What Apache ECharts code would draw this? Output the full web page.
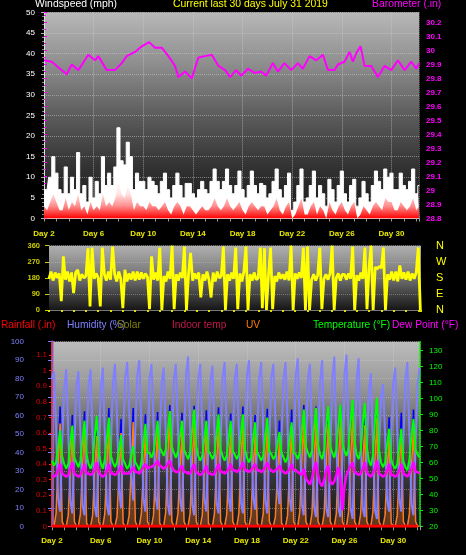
<!DOCTYPE html>
<html><head><meta charset="utf-8">
<script src="https://cdn.jsdelivr.net/npm/echarts/dist/echarts.min.js"></script>
<style>html,body{margin:0;padding:0;background:#000;}#c{width:466px;height:555px;}</style>
</head><body><div id="c"></div>
<script>
// ---------- data (x = days since "Day 2") ----------
const dayLabelStep = 4;
const windStep = 0.25;
const windGust = [7,7,10,15,11,7,6,12.5,
 6,10,7,16,6,8,4,10,
 5,9,6,15,8,11,8,12.5,
 22,14,13,18.5,15,7,11,9,
 9,7,10,9,8,6,9,11,
 7,5,8,11,8,5,8.5,8.5,
 6,5,7,9,7,6,9,12,
 9,7,9,12,8,6,8,11.5,
 7,5,8,11.5,8,6,8.5,8,
 5,6,9,12,7,5,8,11,
 2,4,8,12,4,5,8,11.5,
 5,8,6,3,9.5,7,4,8,
 11.5,6,4,8,9.5,3,5,9,
 6,4,8,11.5,9,7,12,10,
 11,7,7,11,8,7,9,12,
 6,8];
const windAvg = [3,2,4,6,4,2,2,5,
 2,4,3,6,2,3,1,4,
 2,3,2,6,3,4,3,5,
 9,6,5,8,6,2,4,3,
 3,2,4,3,3,2,3,4,
 2,1,3,4,3,1,3,3,
 2,1,2,3,2,2,3,5,
 3,2,3,5,3,2,3,4,
 2,1,3,4,3,2,3,3,
 1,2,3,5,2,1,3,4,
 0,1,3,5,1,1,3,4,
 1,3,2,0,4,2,1,3,
 4,2,1,3,4,0,1,3,
 2,1,3,4,3,2,5,4,
 4,2,2,4,3,2,3,5,
 2,3];
const baroDay = [2.0,2.08,2.62,3.29,3.83,4.23,4.77,5.57,6.11,6.38,7.05,7.73,8.26,8.67,9.34,9.88,10.47,10.95,11.49,12.02,12.56,12.83,13.37,13.91,14.44,14.98,15.52,16.06,16.6,17.0,17.48,17.89,18.43,18.96,19.5,19.9,20.44,20.85,21.38,21.92,22.46,22.86,23.4,23.94,24.48,24.88,25.41,25.68,26.22,26.62,26.89,27.16,27.51,27.83,28.37,28.91,29.44,29.98,30.52,31.06,31.6,32.0,32.22];
const baroValue = [29.93,29.94,29.92,29.87,29.83,29.90,29.86,29.97,29.93,29.96,29.86,29.86,29.91,29.96,29.99,30.03,30.06,30.02,30.02,29.96,29.89,29.81,29.85,29.80,29.95,29.96,29.97,29.89,29.86,29.81,29.86,29.82,29.87,29.84,29.85,29.82,29.91,29.85,29.91,29.86,29.91,29.87,29.96,29.93,29.97,29.86,29.86,29.90,29.92,29.99,29.92,29.98,30.03,29.89,29.89,29.81,29.89,29.86,29.93,29.86,29.92,29.87,29.91];
const dirStep = 1/6;
const windDir = [
 175,215,165,210,180,205, 50,300,170,215,160,210, 95,210,225,165,200,180,
 190,345,20,350,175,205, 180,20,350,200,165,215, 170,355,200,160,215,175,
 10,225,160,205,170,215, 165,215,170,210,175,205, 185,5,300,170,210,165,
 350,0,190,160,215,175, 360,5,200,165,210,180, 355,0,200,320,165,205,
 175,210,70,200,165,215, 170,70,210,160,215,180, 190,355,0,200,165,210,
 175,350,5,205,160,215, 355,0,200,165,210,170, 180,350,10,345,0,200,
 350,5,190,160,210,175, 200,170,215,165,360,0, 205,175,210,180,350,0,
 355,0,170,200,165,195, 350,5,175,200,170,205, 360,0,180,205,165,200,
 200,170,205,175,355,0, 195,165,210,175,350,5, 240,360,0,240,230,245,
 235,350,0,200,170,215, 165,215,160,250,175,210, 170,215,165,205,175,210,
 350,0];
const cycleStep = 1/6;
const temperature = [
 61,58,60,70,80,64, 59,56,59,72,83,63, 60,57,61,74,86,65, 59,56,60,76,89,66,
 60,56,62,75,88,64, 60,57,60,68,77,62, 59,56,58,64,70,60, 58,55,60,72,84,66,
 66,63,66,75,86,69, 67,64,68,80,92,70, 66,63,66,76,86,68, 65,62,66,80,93,70,
 64,61,64,75,86,67, 65,62,65,78,90,68, 64,61,64,75,86,67, 65,62,65,78,90,68,
 63,60,63,74,85,66, 64,61,64,76,88,67, 65,62,64,71,79,66, 63,60,63,74,85,66,
 65,62,66,80,93,70, 66,63,67,81,94,71, 65,62,67,82,95,70, 66,63,68,83,96,72,
 67,64,69,85,99,73, 65,62,67,84,97,70, 61,58,64,85,100,68, 60,57,60,71,81,62,
 58,56,59,70,81,61, 57,55,62,76,87,68, 65,63];
const dewPoint = [
 52,51,52,55,59,53, 52,51,52,56,60,53, 52,51,52,55,59,53, 53,52,53,56,60,54,
 52,51,52,55,59,53, 53,52,53,55,58,53, 53,53,53,55,57,54, 54,53,55,57,59,56,
 57,57,58,59,61,58, 57,56,57,59,61,57, 55,54,54,56,58,54, 54,53,53,56,59,54,
 53,52,53,55,58,53, 53,52,53,56,59,54, 54,53,54,56,59,55, 55,54,55,57,60,55,
 55,54,55,57,59,55, 55,54,55,57,60,56, 55,54,55,56,58,55, 54,53,54,56,59,55,
 55,54,53,52,56,50, 48,46,50,56,60,52, 47,45,49,55,58,48, 46,48,52,57,50,30,
 45,52,55,58,60,54, 53,52,53,56,60,54, 52,51,53,56,61,53, 52,51,52,55,59,52,
 52,51,52,55,59,53, 52,51,53,56,60,54, 54,53];
const humidity = [
 80,84,55,15,8,45, 75,85,52,14,7,42, 76,84,50,12,6,44, 77,85,48,11,5,40,
 76,86,50,12,6,42, 78,88,60,20,10,48, 80,89,65,28,14,52, 82,90,55,15,8,45,
 80,88,55,16,9,46, 78,86,50,12,6,44, 80,88,54,15,8,46, 82,92,52,12,6,44,
 80,88,54,15,8,45, 79,87,52,13,7,44, 81,89,54,15,8,46, 80,88,52,13,7,45,
 82,90,55,16,9,47, 80,89,53,14,7,45, 81,88,58,20,12,48, 80,89,55,15,8,46,
 82,91,52,12,6,42, 80,88,50,11,5,40, 78,90,48,10,5,38, 80,92,48,10,5,36,
 82,93,50,10,4,38, 80,91,48,10,5,40, 74,83,45,9,4,40, 70,77,50,14,8,46,
 78,86,52,15,8,46, 80,89,50,12,6,44, 78,86];
const uvIndex = [
 0,0,0.8,4.0,6.6,0.3, 0,0,0.7,3.6,6.0,0.3, 0,0,0.8,3.8,6.3,0.2, 0,0,0.7,3.5,5.8,0.3,
 0,0,0.8,3.9,6.5,0.3, 0,0,0.6,3.4,6.0,0.2, 0,0,0.7,3.8,6.7,0.3, 0,0,0.8,3.6,6.0,0.3,
 0,0,0.7,3.8,6.3,0.2, 0,0,0.9,4.4,7.4,0.3, 0,0,0.8,3.7,6.2,0.3, 0,0,0.8,4.1,6.8,0.3,
 0,0,0.7,3.8,6.4,0.2, 0,0,0.8,4.0,6.6,0.3, 0,0,0.7,3.7,6.2,0.3, 0,0,0.8,4.1,6.8,0.3,
 0,0,0.7,3.6,6.0,0.2, 0,0,0.8,3.9,6.5,0.3, 0,0,0.6,3.3,5.6,0.2, 0,0,0.7,3.8,6.4,0.3,
 0,0,0.9,4.2,7.0,0.3, 0,0,0.8,4.1,6.8,0.3, 0,0,0.8,4.0,6.6,0.3, 0,0,0.8,4.1,6.9,0.3,
 0,0,0.9,4.3,7.1,0.3, 0,0,0.8,3.9,6.5,0.3, 0,0,0.9,4.2,7.0,0.3, 0,0,0.7,3.5,5.8,0.2,
 0,0,0.7,3.7,6.2,0.3, 0,0,0.8,3.8,6.4,0.3, 0,0];
const solar = [
 0,0,75,395,770,25, 0,0,65,355,715,25, 0,0,75,375,740,20, 0,0,65,345,700,25,
 0,0,75,385,760,25, 0,0,55,335,690,20, 0,0,65,375,760,25, 0,0,75,355,720,25,
 0,0,65,375,735,20, 0,0,85,435,780,25, 0,0,75,365,730,25, 0,0,75,405,775,25,
 0,0,65,375,745,20, 0,0,75,395,765,25, 0,0,65,365,725,25, 0,0,75,405,770,25,
 0,0,65,355,715,20, 0,0,75,385,755,25, 0,0,55,325,680,20, 0,0,65,375,750,25,
 0,0,85,415,780,25, 0,0,75,405,770,25, 0,0,75,395,760,25, 0,0,75,405,775,25,
 0,0,85,425,785,25, 0,0,75,385,755,25, 0,0,85,415,780,25, 0,0,65,345,700,20,
 0,0,65,365,730,25, 0,0,75,375,750,25, 0,0];
const rainDay = [2,3,4,5,6,7,8,9,10,11,12,13,14,15,16,17,18,19,20,21,22,23,24,25,26,27,28,29,30,31,32];
const rainfall = [0,0,0,0,0,0,0,0,0,0,0,0,0,0,0,0,0,0,0,0,0,0,0,0,0,0,0,0,0,0,0];
const compass = {0:'N',90:'E',180:'S',270:'W',360:'N'};

// ---------- helpers ----------
const pairs = (vals, step) => vals.map((v, i) => [i * step, v]);
const FONT = '"Liberation Sans", Arial, sans-serif';
const dot = c => ({show: true, lineStyle: {color: c, type: 'dotted', width: 1}});
const dayFmt = v => (Math.abs(v % dayLabelStep) < 1e-6 ? 'Day ' + Math.round(v + 2) : '');
const num1 = v => String(+(+v).toFixed(1));
const grad = stops => ({type: 'linear', x: 0, y: 0, x2: 0, y2: 1,
  colorStops: stops.map((c, i) => ({offset: i / (stops.length - 1), color: c}))});

const chart = echarts.init(document.getElementById('c'));
chart.setOption({
  backgroundColor: '#000',
  animation: false,
  graphic: [
    {type: 'text', left: 35, top: -1, z: 100, style: {text: 'Windspeed (mph)', fill: '#ffffff', font: '10.4px ' + FONT}},
    {type: 'text', left: 173, top: -1, z: 100, style: {text: 'Current last 30 days July 31 2019', fill: '#ffff00', font: '10.4px ' + FONT}},
    {type: 'text', left: 372, top: -1, z: 100, style: {text: 'Barometer (.in)', fill: '#ff00ff', font: '10.4px ' + FONT}},
    {type: 'text', left: 1, top: 320, z: 100, style: {text: 'Rainfall (.in)', fill: '#ff0000', font: '10.2px ' + FONT}},
    {type: 'text', left: 67, top: 320, z: 100, style: {text: 'Humidity (%)', fill: '#8080ff', font: '10.2px ' + FONT}},
    {type: 'text', left: 117, top: 320, z: 101, style: {text: 'Solar', fill: '#808000', font: '10.2px ' + FONT}},
    {type: 'text', left: 172, top: 320, z: 100, style: {text: 'Indoor temp', fill: '#c01848', font: '10.2px ' + FONT}},
    {type: 'text', left: 246, top: 320, z: 100, style: {text: 'UV', fill: '#ff8000', font: '10.2px ' + FONT}},
    {type: 'text', left: 313, top: 320, z: 100, style: {text: 'Temperature (°F)', fill: '#00ff00', font: '10.2px ' + FONT}},
    {type: 'text', left: 392, top: 320, z: 100, style: {text: 'Dew Point (°F)', fill: '#ff00ff', font: '10.2px ' + FONT}}
  ],
  grid: [
    {left: 44, top: 12.3, width: 375, height: 206.2, show: true, borderWidth: 0,
     backgroundColor: grad(['#b8b8b8', '#8e8e8e', '#5c5c5c', '#323232', '#161616'])},
    {left: 49, top: 245.7, width: 372, height: 64.3, show: true, borderWidth: 0,
     backgroundColor: grad(['#b0b0b0', '#707070', '#161616'])},
    {left: 52, top: 341.7, width: 368, height: 184.6, show: true, borderWidth: 0,
     backgroundColor: grad(['#bcbcbc', '#969696', '#5e5e5e', '#333333', '#161616'])}
  ],
  xAxis: [
    {type: 'value', gridIndex: 0, position: 'bottom', min: 0, max: 30.22, interval: 4,
     axisLine: {show: false}, axisTick: {show: false},
     axisLabel: {color: '#e8e800', fontSize: 8, fontWeight: 'bold', fontFamily: FONT, margin: 11, formatter: dayFmt, showMaxLabel: false},
     splitLine: dot('rgba(210,210,210,0.55)')},
    {type: 'value', gridIndex: 0, position: 'bottom', min: 0, max: 30.22, interval: 1,
     axisLine: {show: true, lineStyle: {color: '#c8c8c8'}}, axisTick: {show: true, length: 3, lineStyle: {color: '#9a9a9a'}},
     axisLabel: {show: false}, splitLine: {show: false}},
    {type: 'value', gridIndex: 1, position: 'bottom', min: 0, max: 30.22, interval: 1,
     axisLine: {show: true, lineStyle: {color: '#777'}}, axisTick: {show: true, length: 2, lineStyle: {color: '#e0e000', width: 2}},
     axisLabel: {show: false}, splitLine: {show: false}},
    {type: 'value', gridIndex: 2, position: 'bottom', min: 0, max: 30.2, interval: 4,
     axisLine: {show: false}, axisTick: {show: false},
     axisLabel: {color: '#e8e800', fontSize: 8, fontWeight: 'bold', fontFamily: FONT, margin: 10, formatter: dayFmt, showMaxLabel: false},
     splitLine: dot('rgba(210,210,210,0.55)')},
    {type: 'value', gridIndex: 2, position: 'bottom', min: 0, max: 30.2, interval: 1,
     axisLine: {show: true, lineStyle: {color: '#b0b0b0'}}, axisTick: {show: true, length: 4, lineStyle: {color: '#9a9a9a'}},
     axisLabel: {show: false}, splitLine: {show: false}}
  ],
  yAxis: [
    {type: 'value', gridIndex: 0, position: 'left', min: 0, max: 50, interval: 5,
     axisLine: {show: true, lineStyle: {color: '#d8d8d8'}},
     axisTick: {show: true, length: 3, lineStyle: {color: '#b0b0b0'}},
     minorTick: {show: true, splitNumber: 5, length: 2, lineStyle: {color: '#8a8a8a'}},
     axisLabel: {color: '#ffffff', fontSize: 8, fontFamily: FONT, margin: 9},
     splitLine: dot('rgba(210,210,210,0.5)')},
    {type: 'value', gridIndex: 0, position: 'right', min: 28.8, max: 30.273, interval: 0.1,
     axisLine: {show: true, lineStyle: {color: '#e0e0e0'}},
     axisTick: {show: true, length: 3, lineStyle: {color: '#ff00ff'}},
     minorTick: {show: true, splitNumber: 2, length: 2, lineStyle: {color: '#ff00ff'}},
     axisLabel: {color: '#ff00ff', fontSize: 8, fontWeight: 'bold', fontFamily: FONT, margin: 7, formatter: num1, showMaxLabel: false},
     splitLine: {show: false}},
    {type: 'value', gridIndex: 1, position: 'left', offset: 3, min: 0, max: 360, interval: 90,
     axisLine: {show: false},
     axisTick: {show: true, length: 4, lineStyle: {color: '#cccc00'}},
     axisLabel: {color: '#cccc00', fontSize: 7.5, fontWeight: 'bold', fontFamily: FONT, margin: 6},
     splitLine: dot('rgba(200,200,200,0.4)')},
    {type: 'value', gridIndex: 1, position: 'right', min: 0, max: 360, interval: 90,
     axisLine: {show: false}, axisTick: {show: false},
     axisLabel: {color: '#ffff00', fontSize: 11, fontFamily: FONT, margin: 15, formatter: v => compass[v] || ''},
     splitLine: {show: false}},
    {type: 'value', gridIndex: 2, position: 'left', offset: 22, min: 0, max: 100, interval: 10,
     axisLine: {show: true, lineStyle: {color: '#8080ff', width: 2.5}},
     axisTick: {show: true, length: 4, lineStyle: {color: '#8080ff'}},
     axisLabel: {color: '#8080ff', fontSize: 8, fontFamily: FONT, margin: 6},
     splitLine: dot('rgba(210,210,210,0.45)')},
    {type: 'value', gridIndex: 2, position: 'left', offset: 1, min: 0, max: 1.1864, interval: 0.1,
     axisLine: {show: true, lineStyle: {color: '#ff2020', type: 'dotted', width: 1.5}},
     axisTick: {show: true, length: 3, lineStyle: {color: '#ff2020'}},
     axisLabel: {color: '#e00000', fontSize: 8, fontFamily: FONT, margin: 4, formatter: num1, showMaxLabel: false},
     splitLine: {show: false}},
    {type: 'value', gridIndex: 2, position: 'right', min: 20, max: 135.375, interval: 10,
     axisLine: {show: true, lineStyle: {color: '#00ff00', type: 'dotted', width: 1.5}},
     axisTick: {show: true, length: 3, lineStyle: {color: '#00ff00'}},
     axisLabel: {color: '#00ff00', fontSize: 8, fontFamily: FONT, margin: 9, showMaxLabel: false},
     splitLine: {show: false}},
    {type: 'value', gridIndex: 2, show: false, min: 0, max: 11.864},
    {type: 'value', gridIndex: 2, show: false, min: 0, max: 1186.4}
  ],
  series: [
    {name: 'Wind gust', type: 'line', xAxisIndex: 0, yAxisIndex: 0, step: 'middle', symbol: 'none', z: 2,
     data: pairs(windGust, windStep), lineStyle: {color: '#ffffff', width: 1}, areaStyle: {color: '#ffffff', opacity: 1}},
    {name: 'Wind speed', type: 'line', xAxisIndex: 0, yAxisIndex: 0, symbol: 'none', z: 4,
     data: pairs(windAvg, windStep), lineStyle: {width: 0},
     areaStyle: {color: grad(['rgba(255,0,0,0)', 'rgba(255,0,0,0.1)', 'rgba(255,0,0,0.45)', 'rgba(255,0,0,1)']), opacity: 1}},
    {name: 'Barometer', type: 'line', xAxisIndex: 0, yAxisIndex: 1, symbol: 'none', z: 5,
     data: baroDay.map((d, i) => [d - 2, baroValue[i]]), lineStyle: {color: '#ff00ff', width: 2}},
    {name: 'Wind direction', type: 'line', xAxisIndex: 2, yAxisIndex: 2, symbol: 'none',
     data: pairs(windDir, dirStep), lineStyle: {color: '#ffff00', width: 2.8}},
    {name: 'Solar', type: 'line', xAxisIndex: 3, yAxisIndex: 8, symbol: 'none',
     data: pairs(solar, cycleStep), lineStyle: {color: '#0000ff', width: 1.6}},
    {name: 'UV', type: 'line', xAxisIndex: 3, yAxisIndex: 7, symbol: 'none',
     data: pairs(uvIndex, cycleStep), lineStyle: {color: '#ff8000', width: 1.6},
     areaStyle: {color: 'rgba(220,110,30,0.55)'}},
    {name: 'Humidity', type: 'line', xAxisIndex: 3, yAxisIndex: 4, symbol: 'none',
     data: pairs(humidity, cycleStep), lineStyle: {color: '#8080ff', width: 2}},
    {name: 'Temperature', type: 'line', xAxisIndex: 3, yAxisIndex: 6, symbol: 'none',
     data: pairs(temperature, cycleStep), lineStyle: {color: '#00ff00', width: 2}},
    {name: 'Dew Point', type: 'line', xAxisIndex: 3, yAxisIndex: 6, symbol: 'none',
     data: pairs(dewPoint, cycleStep), lineStyle: {color: '#ff00ff', width: 2.5}},
    {name: 'Rainfall', type: 'line', xAxisIndex: 3, yAxisIndex: 5, symbol: 'none',
     data: rainDay.map((d, i) => [d - 2, rainfall[i]]), lineStyle: {color: '#ff0000', width: 3}}
  ]
});
</script></body></html>
